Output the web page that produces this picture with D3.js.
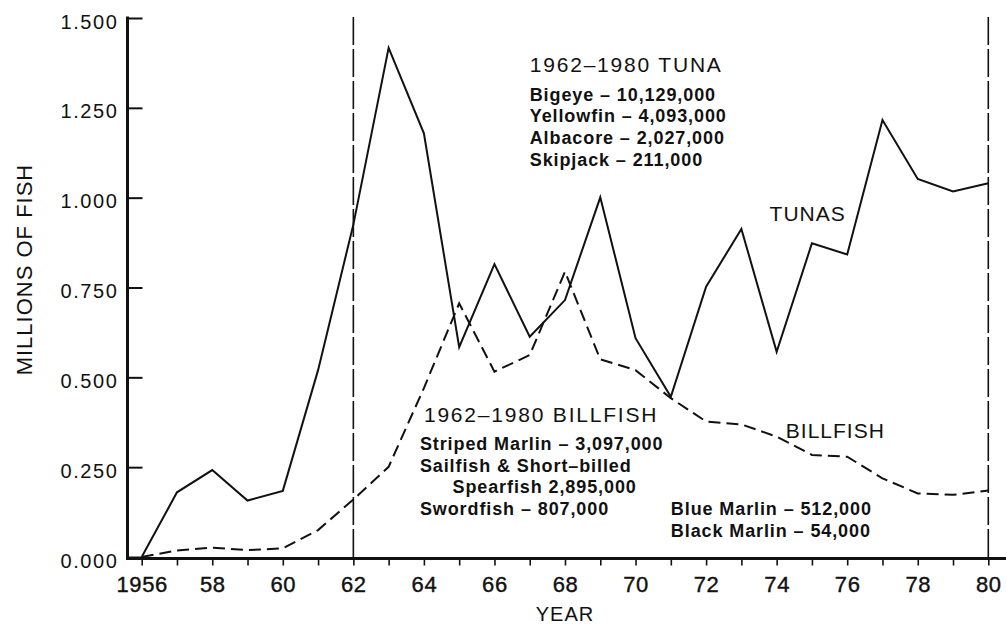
<!DOCTYPE html>
<html>
<head>
<meta charset="utf-8">
<script src="https://cdn.jsdelivr.net/npm/d3@7"></script>
<style>
  html, body { margin: 0; padding: 0; background: #fff; }
  svg { display: block; font-family: "Liberation Sans", Arial, Helvetica, sans-serif; }
</style>
</head>
<body>
<svg id="chart" width="1006" height="626"></svg>
<script>
// Annual catch, millions of fish
const years = [1956, 1957, 1958, 1959, 1960, 1961, 1962, 1963, 1964, 1965, 1966, 1967, 1968,
               1969, 1970, 1971, 1972, 1973, 1974, 1975, 1976, 1977, 1978, 1979, 1980];
const tunas = [0.000, 0.180, 0.242, 0.157, 0.184, 0.520, 0.925, 1.417, 1.179, 0.584, 0.815, 0.613, 0.715,
               1.001, 0.609, 0.446, 0.752, 0.913, 0.571, 0.873, 0.842, 1.216, 1.052, 1.017, 1.040];
const billfish = [0.000, 0.018, 0.026, 0.019, 0.024, 0.075, 0.160, 0.251, 0.470, 0.706, 0.516, 0.562, 0.794,
                  0.550, 0.520, 0.442, 0.377, 0.369, 0.335, 0.284, 0.279, 0.219, 0.177, 0.173, 0.185];
const yTicks = [0, 0.25, 0.5, 0.75, 1.0, 1.25, 1.5];
const periodYears = [1962, 1980];

// Species totals for the 1962–1980 period
const tunaTitle = "1962–1980 TUNA";
const tunaSpecies = ["Bigeye – 10,129,000", "Yellowfin – 4,093,000", "Albacore – 2,027,000", "Skipjack – 211,000"];
const billTitle = "1962–1980 BILLFISH";
const billSpeciesLeft = ["Striped Marlin – 3,097,000", "Sailfish & Short–billed", "Spearfish 2,895,000", "Swordfish – 807,000"];
const billSpeciesRight = ["Blue Marlin – 512,000", "Black Marlin – 54,000"];

const svg = d3.select("#chart");
svg.append("rect").attr("width", 1006).attr("height", 626).attr("fill", "#fff");

const x = d3.scaleLinear().domain([1956, 1980]).range([141.7, 988.3]);
const y = d3.scaleLinear().domain([0, 1.5]).range([557, 18]);
const axisX = 127.5, axisY = 558.5;
const ink = "#111";

// Y axis
const yAxis = svg.append("g")
  .attr("transform", `translate(${axisX},0)`)
  .call(d3.axisLeft(y).tickValues(yTicks).tickFormat(d3.format(".3f")).tickSize(-15).tickPadding(9));
yAxis.select(".domain").remove();
yAxis.selectAll(".tick line").attr("stroke", ink).attr("stroke-width", 2);
yAxis.selectAll(".tick text")
  .attr("fill", ink).attr("font-size", 20).attr("letter-spacing", 1.6)
  .attr("font-family", "Liberation Sans, Arial, sans-serif")
  .attr("dy", 10);

// X axis
const xAxis = svg.append("g")
  .attr("transform", `translate(0,${axisY})`)
  .call(d3.axisBottom(x).tickValues(years).tickSize(7)
    .tickFormat(d => d % 2 === 0 ? (d === 1956 ? "1956" : String(d).slice(2)) : ""));
xAxis.select(".domain").remove();
xAxis.selectAll(".tick line").attr("stroke", ink).attr("stroke-width", 1.6);
xAxis.selectAll(".tick text")
  .attr("fill", ink).attr("font-size", 22).attr("letter-spacing", 0.6)
  .attr("stroke", ink).attr("stroke-width", 0.4)
  .attr("font-family", "Liberation Sans, Arial, sans-serif")
  .attr("y", 33.8).attr("dy", 0);

// Axis lines
svg.append("line").attr("x1", axisX).attr("x2", 1006).attr("y1", axisY).attr("y2", axisY)
  .attr("stroke", ink).attr("stroke-width", 3);
svg.append("line").attr("x1", axisX).attr("x2", axisX).attr("y1", y(1.5) - 1.5).attr("y2", axisY + 1.5)
  .attr("stroke", ink).attr("stroke-width", 3);

// Period boundaries
svg.selectAll(".period").data(periodYears).enter().append("line")
  .attr("class", "period")
  .attr("x1", d => x(d)).attr("x2", d => x(d))
  .attr("y1", y(1.5) - 1).attr("y2", axisY)
  .attr("stroke", ink).attr("stroke-width", 1.6).attr("stroke-dasharray", "28,4");

// Series lines
const line = d3.line().x((d, i) => x(years[i])).y(d => y(d));
svg.append("path").datum(billfish).attr("d", line)
  .attr("fill", "none").attr("stroke", ink).attr("stroke-width", 2)
  .attr("stroke-dasharray", "12,6");
svg.append("path").datum(tunas).attr("d", line)
  .attr("fill", "none").attr("stroke", ink).attr("stroke-width", 2)
  .attr("stroke-linejoin", "miter");

// Axis titles
svg.append("text").text("YEAR")
  .attr("x", x(1968)).attr("y", 621).attr("text-anchor", "middle")
  .attr("font-size", 20).attr("letter-spacing", 1).attr("fill", ink);
svg.append("text").text("MILLIONS OF FISH")
  .attr("transform", `translate(32,${y(0.80)}) rotate(-90)`)
  .attr("text-anchor", "middle").attr("font-size", 22).attr("letter-spacing", 1).attr("fill", ink);

// Series labels
svg.append("text").text("TUNAS")
  .attr("x", x(1973.8)).attr("y", y(0.936))
  .attr("font-size", 21).attr("letter-spacing", 1).attr("fill", ink);
svg.append("text").text("BILLFISH")
  .attr("x", x(1974.26)).attr("y", y(0.33))
  .attr("font-size", 21).attr("letter-spacing", 1).attr("fill", ink);

// Period totals
function noteBlock(title, lines, px, py, offsets, indents) {
  const g = svg.append("g").attr("transform", `translate(${px},${py})`);
  if (title) {
    g.append("text").text(title).attr("x", 4).attr("y", 0)
      .attr("font-size", 21).attr("letter-spacing", 1.8).attr("fill", ink);
  }
  lines.forEach((t, i) => {
    g.append("text").text(t).attr("x", indents[i]).attr("y", offsets[i])
      .attr("font-size", 18).attr("font-weight", "bold").attr("letter-spacing", 0.9).attr("fill", ink);
  });
}
noteBlock(tunaTitle, tunaSpecies, x(1967) - 4, y(1.35), [28.7, 50.5, 72, 93.7], [4, 4, 4, 4]);
noteBlock(billTitle, billSpeciesLeft, x(1964) - 4, y(0.3766), [28.3, 50, 71, 93.3], [0, 0, 32.6, 0]);
noteBlock(null, billSpeciesRight, x(1971.0), y(0.3766), [93.3, 115], [0, 0]);
</script>
</body>
</html>
